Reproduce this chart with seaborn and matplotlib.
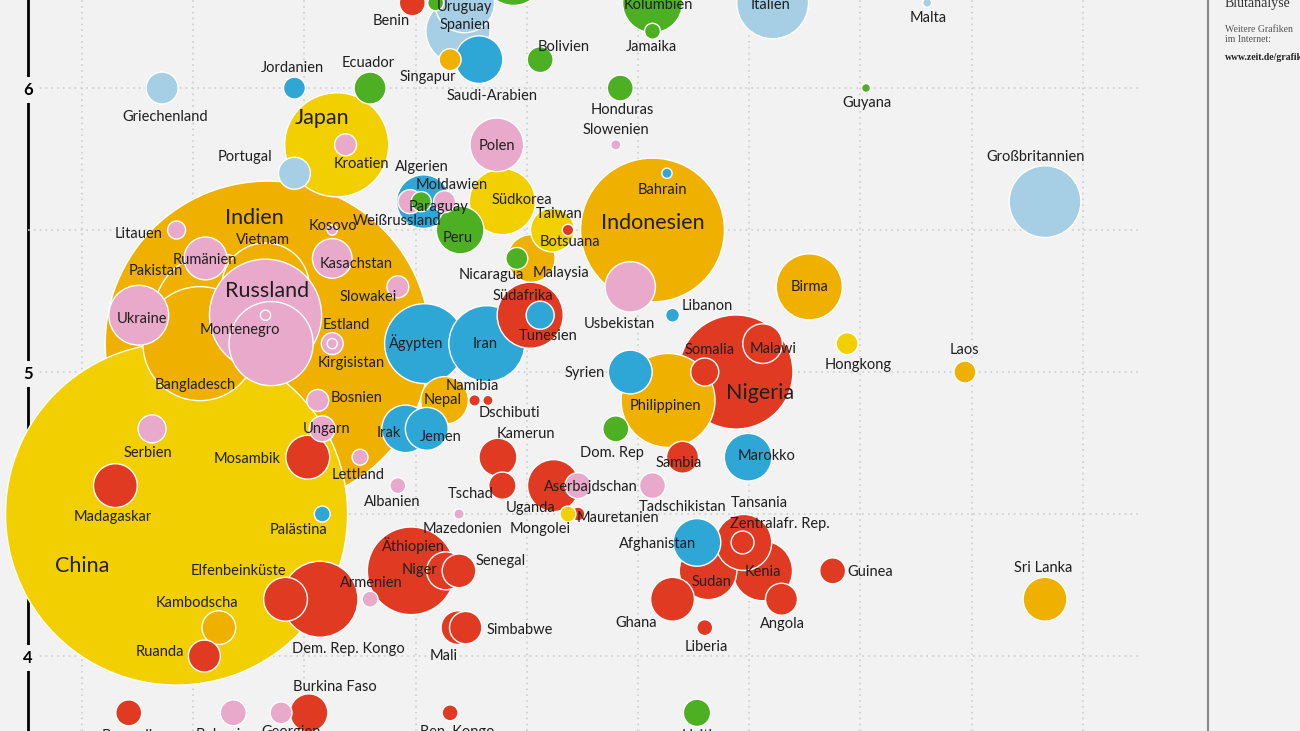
import matplotlib
matplotlib.use("Agg")
import matplotlib.pyplot as plt
from matplotlib.lines import Line2D
import pandas as pd
import seaborn as sns

# Länder in Zeichenreihenfolge (hinten -> vorne)
laender = [
    "Indien", "China", "Indonesien", "Pakistan", "Bangladesch",
    "Vietnam", "Nigeria", "Russland", "Japan", "Philippinen",
    "Äthiopien", "", "Ägypten", "Iran", "Dem. Rep. Kongo",
    "Italien", "Großbritannien", "Birma", "Südafrika", "Südkorea",
    "Spanien", "", "", "Kolumbien", "Ukraine",
    "Kenia", "Sudan", "Tansania", "Algerien", "Polen",
    "Uganda", "Usbekistan", "Peru", "Malaysia", "Saudi-Arabien",
    "Nepal", "Irak", "Marokko", "Afghanistan", "Taiwan",
    "Jemen", "Syrien", "Ghana", "Sri Lanka", "Mosambik",
    "Madagaskar", "Elfenbeinküste", "Rumänien", "Kasachstan", "Malawi",
    "Kamerun", "Burkina Faso", "Niger", "Mali", "Kambodscha",
    "Senegal", "Simbabwe", "Griechenland", "Portugal", "Ecuador",
    "Sambia", "Angola", "Ruanda", "Haiti", "Tschad",
    "Serbien", "Tunesien", "Somalia", "Bolivien", "Honduras",
    "Dom. Rep", "Guinea", "Burundi", "Bulgarien", "Benin",
    "Ungarn", "Aserbajdschan", "Tadschikistan", "Weißrussland", "Zentralafr. Rep.",
    "Moldawien", "Jordanien", "Singapur", "Kroatien", "Hongkong",
    "Laos", "Kirgisistan", "Slowakei", "Bosnien", "Georgien",
    "Nicaragua", "Paraguay", "Litauen", "Uruguay", "Jamaika",
    "Mauretanien", "Mongolei", "Armenien", "Lettland", "Albanien",
    "Palästina", "Liberia", "Rep. Kongo", "Libanon", "Botsuana",
    "Namibia", "Dschibuti", "Slowenien", "Mazedonien", "Kosovo",
    "Bahrain", "Estland", "Malta", "Guyana", "Montenegro",
]

x_wert = [
    1.67, 0.85, 5.13, 1.20, 1.06,
    1.65, 5.88, 1.65, 2.29, 5.27,
    2.96, 1.70, 3.08, 3.64, 2.14,
    6.21, 8.66, 6.54, 4.03, 3.78,
    3.38, 3.44, 3.88, 5.13, 0.51,
    6.12, 5.63, 5.95, 3.07, 3.73,
    4.24, 4.93, 3.40, 4.04, 3.57,
    3.26, 2.91, 5.99, 5.53, 4.23,
    3.10, 4.93, 5.31, 8.66, 2.03,
    0.30, 1.83, 1.11, 2.25, 6.12,
    3.74, 2.04, 3.27, 3.38, 1.23,
    3.39, 3.45, 0.72, 1.91, 2.59,
    5.40, 6.29, 1.10, 5.53, 3.78,
    0.63, 4.12, 5.60, 4.12, 4.84,
    4.80, 6.75, 0.42, 1.36, 2.97,
    2.16, 4.46, 5.13, 2.95, 5.94,
    3.26, 1.91, 3.31, 2.37, 6.88,
    7.94, 2.25, 2.84, 2.12, 1.79,
    3.91, 3.05, 0.85, 3.18, 5.13,
    4.46, 4.37, 2.59, 2.50, 2.84,
    2.16, 5.60, 3.31, 5.31, 4.37,
    3.53, 3.65, 4.80, 3.39, 2.25,
    5.26, 2.25, 7.60, 7.05, 1.65,
]

y_wert = [
    5.1, 4.5, 5.5, 5.2, 5.1,
    5.3, 5.0, 5.2, 5.8, 4.9,
    4.3, 5.1, 5.1, 5.1, 4.2,
    6.3, 5.6, 5.3, 5.2, 5.6,
    6.2, 6.3, 6.4, 6.3, 5.2,
    4.3, 4.3, 4.4, 5.6, 5.8,
    4.6, 5.3, 5.5, 5.4, 6.1,
    4.9, 4.8, 4.7, 4.4, 5.5,
    4.8, 5.0, 4.2, 4.2, 4.7,
    4.6, 4.2, 5.4, 5.4, 5.1,
    4.7, 3.8, 4.3, 4.1, 4.1,
    4.3, 4.1, 6.0, 5.7, 6.0,
    4.7, 4.2, 4.0, 3.8, 4.6,
    4.8, 5.2, 5.0, 6.1, 6.0,
    4.8, 4.3, 3.8, 3.8, 6.3,
    4.8, 4.6, 4.6, 5.6, 4.4,
    5.6, 6.0, 6.1, 5.8, 5.1,
    5.0, 5.1, 5.3, 4.9, 3.8,
    5.4, 5.6, 5.5, 6.3, 6.2,
    4.5, 4.5, 4.2, 4.7, 4.6,
    4.5, 4.1, 3.8, 5.2, 5.5,
    4.9, 4.9, 5.8, 4.5, 5.5,
    5.7, 5.1, 6.3, 6.0, 5.2,
]

# Einwohner in Millionen (Kreisfläche)
einwohner = [
    1210, 1340, 237, 176, 149,
    88, 149, 144, 124, 101,
    88, 81, 73, 66, 66,
    59, 59, 50, 50, 50,
    47, 41, 44, 41, 41,
    41, 38, 36, 33, 33,
    31, 29, 26, 26, 26,
    26, 26, 26, 26, 22,
    21, 22, 22, 22, 22,
    22, 22, 21, 18, 18,
    16.5, 16.5, 16.5, 13, 13,
    13, 12, 11.7, 11.7, 11.7,
    11.7, 11.7, 11.7, 8.5, 8.5,
    9, 9, 9, 7.7, 7.7,
    7.7, 7.7, 7.7, 7.7, 7.7,
    7.7, 7.7, 7.7, 6.6, 6.0,
    5.5, 5.5, 5.5, 5.5, 5.5,
    5.5, 5.5, 5.5, 5.5, 5.5,
    5.5, 4.6, 3.7, 2.9, 2.9,
    2.2, 2.9, 2.9, 2.9, 2.9,
    2.9, 2.9, 2.9, 2.2, 1.5,
    1.5, 1.2, 1.2, 1.2, 1.2,
    1.2, 1.2, 0.9, 0.9, 1.2,
]

region = [
    "S", "E", "S", "S", "S",
    "S", "A", "O", "E", "S",
    "A", "O", "N", "N", "A",
    "W", "W", "S", "A", "E",
    "W", "W", "L", "L", "O",
    "A", "A", "A", "N", "O",
    "A", "O", "L", "S", "N",
    "S", "N", "N", "N", "E",
    "N", "N", "A", "S", "A",
    "A", "A", "O", "O", "A",
    "A", "A", "A", "A", "S",
    "A", "A", "W", "W", "L",
    "A", "A", "A", "L", "A",
    "O", "N", "A", "L", "L",
    "L", "A", "A", "O", "A",
    "O", "O", "O", "O", "A",
    "O", "N", "S", "O", "E",
    "S", "O", "O", "O", "O",
    "L", "L", "O", "L", "L",
    "A", "E", "O", "O", "O",
    "N", "A", "A", "N", "A",
    "A", "A", "O", "O", "O",
    "N", "O", "W", "L", "O",
]

regionen = {
    "W": "Westeuropa", "O": "Osteuropa", "E": "Ostasien",
    "S": "Süd- und Südostasien", "N": "Nahost", "L": "Lateinamerika",
    "A": "Afrika",
}
farben = {
    "Westeuropa": "#a6cfe6", "Osteuropa": "#e9a9cb", "Ostasien": "#f2cf00",
    "Süd- und Südostasien": "#efb000", "Nahost": "#2fa7d6",
    "Lateinamerika": "#4daf22", "Afrika": "#e03b22",
}

# Beschriftung: Versatz in Pixeln (rechts, unten) vom Kreismittelpunkt
versatz = {
    "Benin": (-21, 18), "Uruguay": (29, 4), "Spanien": (7, -6), "Saudi-Arabien": (13, 36),
    "Singapur": (-22, 17), "Bolivien": (23, -13), "Kolumbien": (6, 2), "Jamaika": (-1, 16),
    "Italien": (-2, 2), "Malta": (1, 15), "Jordanien": (-2, -20), "Ecuador": (-2, -25),
    "Griechenland": (3, 29), "Honduras": (2, 22), "Guyana": (1, 15), "Slowenien": (0, -15),
    "Japan": (-15, -27), "Kroatien": (16, 19), "Portugal": (-49, -16), "Polen": (0, 1),
    "Algerien": (-2, -35), "Moldawien": (7, -17), "Paraguay": (17, 5), "Weißrussland": (-13, 19),
    "Peru": (-2, 8), "Südkorea": (19, -2), "Taiwan": (7, -16), "Botsuana": (2, 12),
    "Malaysia": (30, 15), "Nicaragua": (-26, 17), "Indonesien": (0, -7), "Bahrain": (-5, 17),
    "Usbekistan": (-11, 37), "Libanon": (35, -9), "Birma": (0, 0), "Hongkong": (11, 21),
    "Laos": (-1, -22), "Großbritannien": (-9, -45), "Südafrika": (-7, -19), "Tunesien": (8, 21),
    "Iran": (-2, 0), "Ägypten": (-8, -1), "Nepal": (-2, 0), "Namibia": (-2, -14),
    "Dschibuti": (22, 13), "Irak": (-17, 4), "Jemen": (14, 8), "Syrien": (-46, 1),
    "Philippinen": (-3, 6), "Somalia": (5, -22), "Nigeria": (24, 21), "Malawi": (11, 5),
    "Dom. Rep": (-4, 24), "Sambia": (-4, 6), "Marokko": (18, -1), "Kamerun": (28, -23),
    "Tschad": (-32, 8), "Uganda": (-23, 22), "Aserbajdschan": (13, 1), "Mongolei": (-28, 15),
    "Mauretanien": (40, 4), "Tadschikistan": (30, 21), "Afghanistan": (-39, 2), "Tansania": (16, -39),
    "Zentralafr. Rep.": (37, -18), "Sudan": (3, 11), "Kenia": (0, 1), "Angola": (1, 25),
    "Ghana": (-36, 24), "Liberia": (2, 19), "Guinea": (38, 1), "Sri Lanka": (-2, -31),
    "Äthiopien": (2, -25), "Niger": (-26, -1), "Senegal": (42, -10), "Mali": (-14, 28),
    "Simbabwe": (54, 2), "Armenien": (1, -16), "Dem. Rep. Kongo": (28, 50),
    "Elfenbeinküste": (-47, -28), "Kambodscha": (-22, -25), "Ruanda": (-44, -4),
    "Madagaskar": (-3, 31), "China": (-94, 52), "Palästina": (-24, 16), "Serbien": (-4, 24),
    "Mosambik": (-61, 2), "Ungarn": (4, 0), "Bosnien": (39, -2), "Lettland": (-2, 18),
    "Albanien": (-6, 16), "Mazedonien": (3, 15), "Kirgisistan": (19, 19), "Estland": (14, -19),
    "Slowakei": (-30, 10), "Kasachstan": (24, 6), "Kosovo": (1, -4), "Russland": (2, -24),
    "Montenegro": (-26, 15), "Vietnam": (-3, -47), "Indien": (-13, -126), "Pakistan": (-60, -44),
    "Bangladesch": (-5, 41), "Rumänien": (-1, 2), "Ukraine": (3, 4), "Litauen": (-38, 4),
    "Burundi": (-1, 23), "Bulgarien": (-7, 22), "Georgien": (10, 19), "Burkina Faso": (26, -26),
    "Rep. Kongo": (7, 19), "Haiti": (0, 23),
}
gross = {"China", "Indien", "Japan", "Russland", "Indonesien", "Nigeria"}

BG = "#f2f2f2"
TXT = "#1f1f1f"

sns.set_theme(style="white")
plt.rcParams["font.family"] = ["Lato", "DejaVu Sans"]

df = pd.DataFrame({
    "land": laender, "x": x_wert, "y": y_wert,
    "einwohner": einwohner, "region": [regionen[r] for r in region],
})

fig = plt.figure(figsize=(13, 7.31), dpi=100, facecolor=BG)
ax = fig.add_axes([28 / 1300, 0, 1112 / 1300, 1])
ax.set_facecolor(BG)

# China-Kreis hat ca. 342 px Durchmesser
s_max = (342 * 72 / fig.dpi) ** 2
sns.scatterplot(data=df, x="x", y="y", size="einwohner", sizes=(0, s_max),
                size_norm=(0, 1340), hue="region", palette=farben,
                edgecolor="white", linewidth=1, alpha=1, legend=False,
                ax=ax, clip_on=False, zorder=2)

for _, r in df.iterrows():
    if not r["land"]:
        continue
    dx, dy = versatz[r["land"]]
    ax.annotate(r["land"], (r["x"], r["y"]), xytext=(dx, -dy),
                textcoords="offset pixels", ha="center", va="center",
                fontsize=15.5 if r["land"] in gross else 10.5, color=TXT,
                zorder=5, annotation_clip=False)

ax.set_xlim(-0.486, 9.514)
ax.set_ylim(3.736, 6.31)
ax.set(xlabel="", ylabel="")

ax.set_xticks(range(10))
ax.set_xticklabels([])
ax.set_yticks([4, 5, 6])
ax.set_yticklabels(["4", "5", "6"], fontweight="bold", fontsize=12)
ax.set_yticks([4.5, 5.5], minor=True)
ax.tick_params(axis="both", which="both", length=0)
ax.tick_params(axis="y", pad=0, colors="black")
for t in ax.get_yticklabels():
    t.set_ha("center")
    t.set_bbox(dict(boxstyle="square,pad=0.3", fc=BG, ec="none"))

grid_kw = dict(color="#cdcdcd", linestyle=(0, (1, 2.5)), linewidth=1.2)
ax.grid(True, axis="y", which="both", **grid_kw)
ax.grid(True, axis="x", which="major", **grid_kw)
ax.set_axisbelow(True)

for s in ["top", "right", "bottom"]:
    ax.spines[s].set_visible(False)
ax.spines["left"].set_color("black")
ax.spines["left"].set_linewidth(2)
ax.spines["left"].set_zorder(0.4)

# rechte Randspalte
fig.add_artist(Line2D([1208 / 1300] * 2, [0, 1], transform=fig.transFigure,
                      color="#8a8a8a", linewidth=1.5))
serif = ["Liberation Serif", "DejaVu Serif"]
fig.text(1225 / 1300, 1 - 4 / 731, "Blutanalyse", family=serif, fontsize=10,
         color="#333333", va="center")
fig.text(1225 / 1300, 1 - 29 / 731, "Weitere Grafiken", family=serif,
         fontsize=7, color="#555555", va="center")
fig.text(1225 / 1300, 1 - 40 / 731, "im Internet:", family=serif,
         fontsize=7, color="#555555", va="center")
fig.text(1225 / 1300, 1 - 58 / 731, "www.zeit.de/grafik", family=serif,
         fontsize=7, fontweight="bold", color="#222222", va="center")

fig.savefig("out.png", dpi=100, facecolor=BG)
